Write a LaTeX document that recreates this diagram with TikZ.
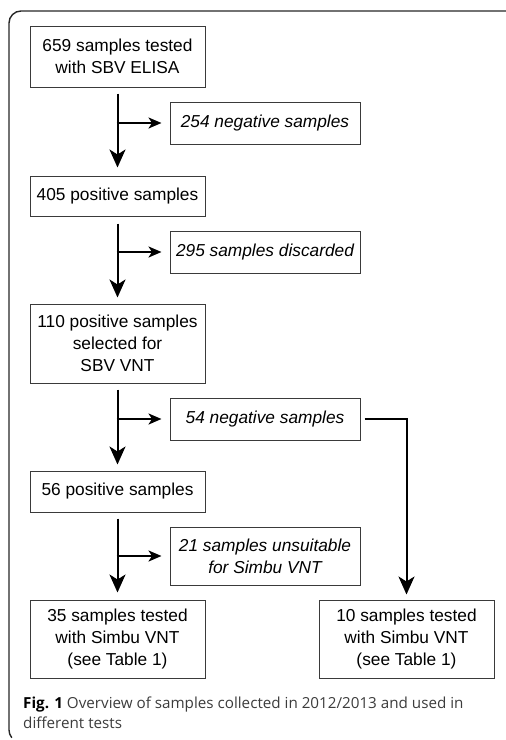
\documentclass[tikz,border=0pt]{standalone}
\usepackage{fontspec}
\setmainfont{Liberation Sans}
\newfontfamily\capfont{Open Sans}
\usetikzlibrary{arrows.meta}
\definecolor{boxgray}{HTML}{3A3A3A}
\definecolor{capgray}{HTML}{3C3C3C}
\tikzset{
  x=1pt,y=1pt,
  mainbox/.style={draw=boxgray, line width=1pt, minimum width=175pt, align=center, inner sep=0pt, font=\fontsize{17.3}{22}\selectfont},
  sidebox/.style={draw=boxgray, line width=1pt, minimum width=190pt, minimum height=42pt, align=center, inner sep=0pt, font=\fontsize{17.3}{22}\selectfont\itshape},
  flow/.style={line width=2pt, -{Stealth[length=18pt,width=16pt,inset=5pt]}},
  branch/.style={line width=2pt, -{Stealth[length=13pt,width=11pt,inset=3.5pt]}},
}
\begin{document}
\begin{tikzpicture}
\useasboundingbox (0,0) rectangle (506,-740);
% outer frame
\draw[line width=1.4pt, color=black!85] (506,-11) -- (21,-11) arc[start angle=90, end angle=180, radius=12] -- (9,-730) arc[start angle=180, end angle=220, radius=12];

% main column
\node[mainbox, minimum height=61pt] (b1) at (117.5,-56.5) {659 samples tested\\with SBV ELISA};
\node[mainbox, minimum height=40pt] (b2) at (117.5,-196) {405 positive samples};
\node[mainbox, minimum height=79pt] (b3) at (117.5,-343.5) {110 positive samples\\selected for\\SBV VNT};
\node[mainbox, minimum height=41pt] (b4) at (117.5,-491.5) {56 positive samples};
\node[mainbox, minimum height=78pt] (b5) at (117.5,-639) {35 samples tested\\with Simbu VNT\\(see Table 1)};
\node[mainbox, minimum height=78pt] (b6) at (406.5,-639) {10 samples tested\\with Simbu VNT\\(see Table 1)};

% side boxes
\node[sidebox] (s1) at (265,-123) {254 negative samples};
\node[sidebox] (s2) at (265,-252) {295 samples discarded};
\node[sidebox] (s3) at (265,-419) {54 negative samples};
\node[sidebox, minimum height=58pt] (s4) at (265,-556) {21 samples unsuitable\\for Simbu VNT};

% vertical flows
\draw[flow] ([yshift=-6pt]b1.south) -- ([yshift=8pt]b2.north);
\draw[flow] ([yshift=-7pt]b2.south) -- ([yshift=6pt]b3.north);
\draw[flow] ([yshift=-6pt]b3.south) -- ([yshift=6pt]b4.north);
\draw[flow] ([yshift=-6pt]b4.south) -- ([yshift=7pt]b5.north);

% branches
\coordinate (j1) at (b1.south |- s1.west);
\coordinate (j2) at (b2.south |- s2.west);
\coordinate (j3) at (b3.south |- s3.west);
\coordinate (j4) at (b4.south |- s4.west);
\draw[branch] ([xshift=-1pt]j1) -- ([xshift=-8pt]s1.west);
\draw[branch] ([xshift=-1pt]j2) -- ([xshift=-8pt]s2.west);
\draw[branch] ([xshift=-1pt]j3) -- ([xshift=-8pt]s3.west);
\draw[branch] ([xshift=-1pt]j4) -- ([xshift=-8pt]s4.west);

% 54 negative -> 10 samples
\draw[flow] ([xshift=4pt]s3.east) -| ([yshift=5pt]b6.north);

% caption
\node[anchor=base west, inner sep=0pt, align=left, font=\capfont\fontsize{15.2}{20}\selectfont, text=capgray] (cap) at (23,-728)
  {{\color{black}\bfseries Fig. 1} Overview of samples collected in 2012/2013 and used in\\different tests};
\end{tikzpicture}
\end{document}
